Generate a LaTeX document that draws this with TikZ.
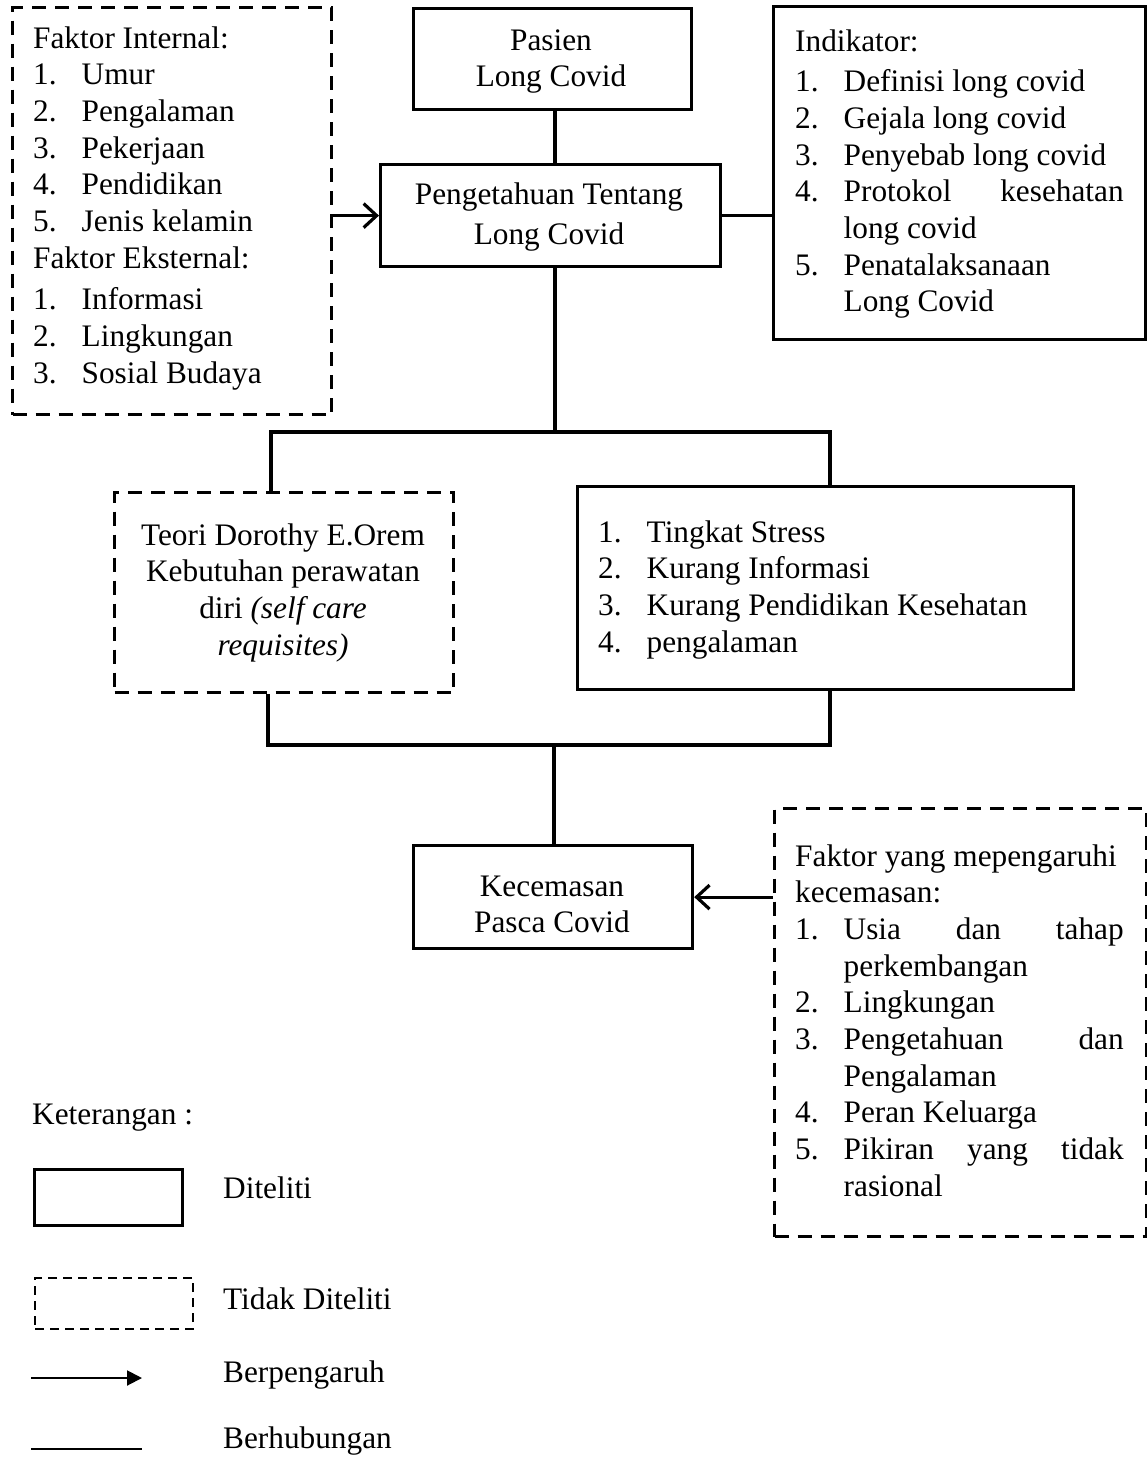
\documentclass[tikz,border=0pt]{standalone}
\usepackage{fontspec}
\setmainfont{Liberation Serif}
\usetikzlibrary{arrows.meta}
\newcommand\itm[2]{\makebox[48.5pt][l]{#1}#2}
\begin{document}
\begin{tikzpicture}[x=1pt,y=-1pt,
  solidbox/.style={draw, line width=3.2pt, inner sep=0, anchor=north west},
  dashbox/.style={solidbox, dash pattern=on 14pt off 9pt},
  conn/.style={line width=3.2pt},
  arr/.style={conn, -{Straight Barb[length=13pt,width=24pt]}},
  txt/.style={inner sep=0, anchor=base west, font=\fontsize{31.3}{36.7}\selectfont},
  ctxt/.style={txt, anchor=base}]
\useasboundingbox (0,0) rectangle (1147,1462);

% boxes
\node[dashbox, minimum width=319pt, minimum height=407pt] (leftf) at (11,6) {};
\node[solidbox, minimum width=278pt, minimum height=101pt] (pasien) at (412,7) {};
\node[solidbox, minimum width=340pt, minimum height=102pt] (peng) at (379,163) {};
\node[solidbox, minimum width=372pt, minimum height=333pt] (indik) at (772,5) {};
\node[dashbox, minimum width=339pt, minimum height=200pt] (teori) at (113,491) {};
\node[solidbox, minimum width=496pt, minimum height=203pt] (alasan) at (576,485) {};
\node[solidbox, minimum width=279pt, minimum height=103pt] (kecem) at (412,844) {};
\node[dashbox, minimum width=372pt, minimum height=428pt] (fkec) at (773,807) {};

% texts
\node[txt] (tleft) at (33,48) {\begin{tabular}[t]{@{}l@{}}Faktor Internal:\\
 \itm{1.}{Umur}\\ \itm{2.}{Pengalaman}\\ \itm{3.}{Pekerjaan}\\ \itm{4.}{Pendidikan}\\
 \itm{5.}{Jenis kelamin}\\ Faktor Eksternal:\\[5pt] \itm{1.}{Informasi}\\
 \itm{2.}{Lingkungan}\\ \itm{3.}{Sosial Budaya}\end{tabular}};
\node[ctxt] (tpasien) at (551,50) {\begin{tabular}[t]{@{}c@{}}Pasien\\ Long Covid\end{tabular}};
\node[ctxt] (tpeng) at (549,204) {\begin{tabular}[t]{@{}c@{}}Pengetahuan Tentang\\[4pt] Long Covid\end{tabular}};
\node[txt] (tindik) at (795,51) {\begin{tabular}[t]{@{}l@{}}Indikator:\\[4pt]
 \itm{1.}{Definisi long covid}\\ \itm{2.}{Gejala long covid}\\ \itm{3.}{Penyebab long covid}\\
 \itm{4.}{\makebox[280pt]{Protokol\hfill kesehatan}}\\ \itm{}{long covid}\\
 \itm{5.}{Penatalaksanaan}\\ \itm{}{Long Covid}\end{tabular}};
\node[ctxt] (tteori) at (283,545) {\begin{tabular}[t]{@{}c@{}}Teori Dorothy E.Orem\\
 Kebutuhan perawatan\\ diri \textit{(self care}\\ \textit{requisites)}\end{tabular}};
\node[txt] (talasan) at (598,542) {\begin{tabular}[t]{@{}l@{}}\itm{1.}{Tingkat Stress}\\
 \itm{2.}{Kurang Informasi}\\ \itm{3.}{Kurang Pendidikan Kesehatan}\\ \itm{4.}{pengalaman}\end{tabular}};
\node[ctxt] (tkecem) at (552,896) {\begin{tabular}[t]{@{}c@{}}Kecemasan\\ Pasca Covid\end{tabular}};
\node[txt] (tfkec) at (795,866) {\begin{tabular}[t]{@{}l@{}}Faktor yang mepengaruhi\\ kecemasan:\\
 \itm{1.}{\makebox[280pt]{Usia\hfill dan\hfill tahap}}\\ \itm{}{perkembangan}\\
 \itm{2.}{Lingkungan}\\ \itm{3.}{\makebox[280pt]{Pengetahuan\hfill dan}}\\ \itm{}{Pengalaman}\\
 \itm{4.}{Peran Keluarga}\\ \itm{5.}{\makebox[280pt]{Pikiran\hfill yang\hfill tidak}}\\
 \itm{}{rasional}\end{tabular}};

% connectors
\coordinate (bt) at (555,432);
\coordinate (bl) at (271,432);
\coordinate (br) at (830,432);
\coordinate (mt) at (554,745);
\coordinate (ml) at (268,745);
\coordinate (mr) at (830,745);
\draw[conn] (pasien.south -| bt) -- (peng.north -| bt);
\draw[conn] (peng.south -| bt) -- (bt);
\draw[conn] (teori.north -| bl) -- (bl) -- (br) -- (alasan.north -| br);
\draw[conn] (teori.south -| ml) -- (ml) -- (mr) -- (alasan.south -| mr);
\draw[conn] (mt) -- (kecem.north -| mt);
\draw[arr] (leftf.east |- peng.west) -- (peng.west);
\draw[conn] (peng.east) -- (indik.west |- peng.east);
\draw[arr] (fkec.west |- kecem.east) -- (kecem.east);

% legend
\node[txt] (ket) at (32,1124) {Keterangan :};
\node[draw, line width=3pt, inner sep=0, anchor=north west, minimum width=148pt, minimum height=56pt] (legsolid) at (33,1168) {};
\node[txt] (ldit) at (223,1198) {Diteliti};
\node[draw, line width=2.2pt, dash pattern=on 9pt off 6pt, inner sep=0, anchor=north west, minimum width=158pt, minimum height=51pt] (legdash) at (34,1277) {};
\node[txt] (ltdk) at (223,1309) {Tidak Diteliti};
\coordinate (la1) at (31,1378);
\coordinate (la2) at (142,1378);
\draw[line width=2pt, -{Triangle[length=15pt,width=15pt]}] (la1) -- (la2);
\node[txt] (lber) at (223,1382) {Berpengaruh};
\coordinate (ll1) at (31,1449);
\coordinate (ll2) at (142,1449);
\draw[line width=2pt] (ll1) -- (ll2);
\node[txt] (lhub) at (223,1448) {Berhubungan};
\end{tikzpicture}
\end{document}
